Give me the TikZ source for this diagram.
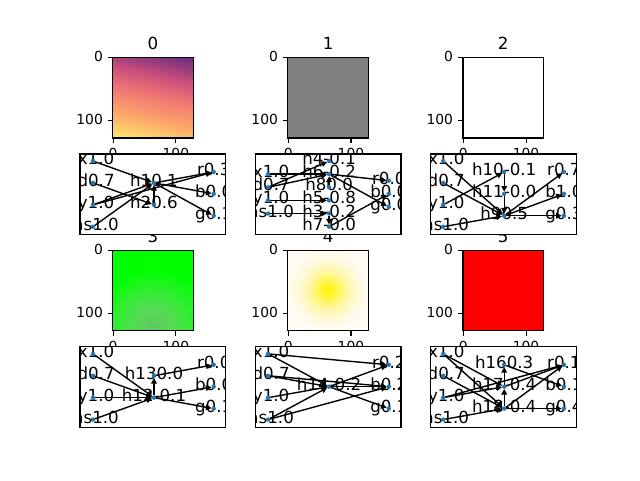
\documentclass[tikz,border=0pt]{standalone}
\usepackage{fontspec}
\setmainfont{DejaVu Sans}
\usetikzlibrary{arrows.meta}

\definecolor{mplblue}{HTML}{1F77B4}
\definecolor{mgA}{HTML}{74307E}
\definecolor{mgB}{HTML}{C94E7C}
\definecolor{mgC}{HTML}{F07474}
\definecolor{mgD}{HTML}{FCA66A}
\definecolor{mgE}{HTML}{FDE26C}
\definecolor{ylA}{HTML}{FFF400}
\definecolor{ylB}{HTML}{FFF54A}
\definecolor{ylC}{HTML}{FFF7A8}
\definecolor{ylD}{HTML}{FFFAE2}
\definecolor{ylE}{HTML}{FFFBF5}
\definecolor{grA}{HTML}{62C862}
\definecolor{grB}{HTML}{52DC52}
\definecolor{grC}{HTML}{2CF02C}
\definecolor{grD}{HTML}{00FF00}

% colour ramps of the pictures
\pgfdeclareverticalshading{magmaish}{100bp}{color(0bp)=(mgE); color(25bp)=(mgE);
  color(38bp)=(mgD); color(52bp)=(mgC); color(63bp)=(mgB); color(75bp)=(mgA); color(100bp)=(mgA)}
\pgfdeclareradialshading{yellowspot}{\pgfpoint{0bp}{0bp}}{color(0bp)=(ylA); color(5bp)=(ylB);
  color(11bp)=(ylC); color(18bp)=(ylD); color(25bp)=(ylE); color(50bp)=(ylE)}
\pgfdeclareradialshading{greenspot}{\pgfpoint{0bp}{0bp}}{color(0bp)=(grA); color(9bp)=(grB);
  color(17bp)=(grC); color(25bp)=(grD); color(50bp)=(grD)}

\tikzset{
  spine/.style={line width=0.83pt},
  tickmark/.style={line width=0.83pt},
  ticklbl/.style={font=\fontsize{10.4}{10.4}\selectfont, inner sep=0pt},
  ttl/.style={font=\fontsize{12.5}{12.5}\selectfont, inner sep=0pt},
  spot/.style={circle, inner sep=0pt, outer sep=0pt, minimum size=3.3pt},
  lbl/.style={font=\fontsize{12.5}{12.5}\selectfont, inner sep=0pt,
    text height=0.76em, text depth=0.24em},
  inlbl/.style={lbl, xshift=2.3pt},
  edge/.style={line width=1.04pt, -{Triangle[length=4.2pt,width=4.2pt]}},
}

% frame, ticks and title of one picture panel
\newcommand{\imgaxes}[3]{%
  \draw[spine] (#1,#2) rectangle ++(80.35,80.35);
  \draw[tickmark] (#1,#2+0.31) -- ++(-4.9,0);
  \draw[tickmark] (#1,#2+63.08) -- ++(-4.9,0);
  \draw[tickmark] (#1+0.31,#2+80.35) -- ++(0,4.9);
  \draw[tickmark] (#1+63.08,#2+80.35) -- ++(0,4.9);
  \node[ticklbl,anchor=mid east] (ya#3) at (#1-9.7,#2+0.31) {0};
  \node[ticklbl,anchor=mid east] (yb#3) at (#1-9.7,#2+63.08) {100};
  \node[ticklbl,anchor=north] (xa#3) at (#1+0.31,#2+90.05) {0};
  \node[ticklbl,anchor=north] (xb#3) at (#1+63.08,#2+90.05) {100};
  \node[ttl,anchor=base] (ttl#3) at (#1+40.17,#2-8.33) {#3};
}

% labels of the four inputs of network #1
\newcommand{\inlabels}[1]{%
  \foreach \nm/\lab in {x/x1.0, d/d0.7, y/y1.0, as/as1.0}
    \node[inlbl] (ta#1\nm) at (a#1\nm) {\lab};
}

\begin{document}
\begin{tikzpicture}[x=0.75pt,y=-0.75pt]
\useasboundingbox[fill=white] (0,0) rectangle (640,480);

% ---------- pictures ----------
\begin{scope}
\clip (112.8,57.6) rectangle ++(80.35,80.35);
\shade[shading=magmaish, shading angle=-12] (108,53) rectangle ++(90,90);
\end{scope}
\imgaxes{112.8}{57.6}{0}

\fill[gray] (287.9,57.6) rectangle ++(80.35,80.35);
\imgaxes{287.9}{57.6}{1}

\fill[white] (463.0,57.6) rectangle ++(80.35,80.35);
\imgaxes{463.0}{57.6}{2}

\begin{scope}
\clip (112.8,250.44) rectangle ++(80.35,80.35);
\fill[grD] (112.8,250.44) rectangle ++(80.35,80.35);
\shade[shading=greenspot] (153,327) circle (58);
\end{scope}
\imgaxes{112.8}{250.44}{3}

\begin{scope}
\clip (287.9,250.44) rectangle ++(80.35,80.35);
\fill[ylE] (287.9,250.44) rectangle ++(80.35,80.35);
\shade[shading=yellowspot] (327.8,290) circle (44);
\end{scope}
\imgaxes{287.9}{250.44}{4}

\fill[red] (463.0,250.44) rectangle ++(80.35,80.35);
\imgaxes{463.0}{250.44}{5}

% ---------- network 0 ----------
\begin{scope}[shift={(80,154.02)}]
\fill[white] (0,0) rectangle (145.9,80.35);
\begin{scope}
\clip (0,0) rectangle (145.9,80.35);
\node[spot] (a0x) at (13,7) {};
\node[spot] (a0d) at (13,28.9) {};
\node[spot] (a0y) at (13,50.8) {};
\node[spot] (a0as) at (13,72.7) {};
\node[spot] (h1) at (74,28.9) {};
\node[spot] (h2) at (74,50.8) {};
\node[spot] (a0r) at (133.7,17.95) {};
\node[spot] (a0b) at (133.7,39.85) {};
\node[spot] (a0g) at (133.7,61.75) {};
\draw[edge] (a0x) -- (h1);
\draw[edge] (a0d) -- (h2);
\draw[edge] (a0y) -- (h1);
\draw[edge] (a0y) -- (a0r);
\draw[edge] (a0as) -- (h1);
\draw[edge] (h2) -- (h1);
\draw[edge] (h1) -- (a0r);
\draw[edge] (h1) -- (a0b);
\draw[edge] (h1) -- (a0g);
\inlabels{0}
\foreach \nm/\lab in {h1/h10.1, h2/h20.6, a0r/r0.3, a0b/b0.0, a0g/g0.1}
  \node[lbl] (t\nm) at (\nm) {\lab};
\foreach \nm in {a0x,a0d,a0y,a0as,h1,h2,a0r,a0b,a0g}
  \fill[mplblue] (\nm) circle (2.2);
\end{scope}
\draw[spine] (0,0) rectangle (145.9,80.35);
\end{scope}

% ---------- network 1 ----------
\begin{scope}[shift={(255.1,154.02)}]
\fill[white] (0,0) rectangle (145.9,80.35);
\begin{scope}
\clip (0,0) rectangle (145.9,80.35);
\node[spot] (a1x) at (13,20.13) {};
\node[spot] (a1d) at (13,33.26) {};
\node[spot] (a1y) at (13,46.39) {};
\node[spot] (a1as) at (13,59.52) {};
\node[spot] (h4) at (74,7) {};
\node[spot] (h6) at (74,20.13) {};
\node[spot] (h8) at (74,33.26) {};
\node[spot] (h5) at (74,46.39) {};
\node[spot] (h3) at (74,59.52) {};
\node[spot] (h7) at (74,72.65) {};
\node[spot] (a1r) at (133.7,26.7) {};
\node[spot] (a1b) at (133.7,39.8) {};
\node[spot] (a1g) at (133.7,52.95) {};
\draw[edge] (a1x) -- (h6);
\draw[edge] (a1d) -- (h4);
\draw[edge] (a1d) -- (h6);
\draw[edge] (a1y) -- (h5);
\draw[edge] (a1as) -- (h3);
\draw[edge] (h8) -- (h6);
\draw[edge] (h3) -- (h7);
\draw[edge] (h6) -- (a1r);
\draw[edge] (h6) -- (a1g);
\draw[edge] (h7) -- (a1b);
\inlabels{1}
\foreach \nm/\lab in {h4/h4-0.1, h6/h6-0.2, h8/h80.0, h5/h5-0.8, h3/h3-0.2, h7/h7-0.0,
    a1r/r0.0, a1b/b0.0, a1g/g0.0}
  \node[lbl] (t\nm) at (\nm) {\lab};
\foreach \nm in {a1x,a1d,a1y,a1as,h4,h6,h8,h5,h3,h7,a1r,a1b,a1g}
  \fill[mplblue] (\nm) circle (2.2);
\end{scope}
\draw[spine] (0,0) rectangle (145.9,80.35);
\end{scope}

% ---------- network 2 ----------
\begin{scope}[shift={(430.2,154.02)}]
\fill[white] (0,0) rectangle (145.9,80.35);
\begin{scope}
\clip (0,0) rectangle (145.9,80.35);
\node[spot] (a2x) at (13,7) {};
\node[spot] (a2d) at (13,28.9) {};
\node[spot] (a2y) at (13,50.8) {};
\node[spot] (a2as) at (13,72.7) {};
\node[spot] (h10) at (74,17.95) {};
\node[spot] (h11) at (74,39.85) {};
\node[spot] (h9) at (74,61.75) {};
\node[spot] (a2r) at (133.7,17.95) {};
\node[spot] (a2b) at (133.7,39.85) {};
\node[spot] (a2g) at (133.7,61.75) {};
\draw[edge] (a2x) -- (h9);
\draw[edge] (a2d) -- (h9);
\draw[edge] (a2y) -- (h10);
\draw[edge] (a2as) -- (h9);
\draw[edge] (h10) -- (h11);
\draw[edge] (h11) -- (h9);
\draw[edge] (h9) -- (a2r);
\draw[edge] (h9) -- (a2b);
\draw[edge] (h9) -- (a2g);
\inlabels{2}
\foreach \nm/\lab in {h10/h10-0.1, h11/h11-0.0, h9/h90.5, a2r/r0.7, a2b/b1.0, a2g/g0.3}
  \node[lbl] (t\nm) at (\nm) {\lab};
\foreach \nm in {a2x,a2d,a2y,a2as,h10,h11,h9,a2r,a2b,a2g}
  \fill[mplblue] (\nm) circle (2.2);
\end{scope}
\draw[spine] (0,0) rectangle (145.9,80.35);
\end{scope}

% ---------- network 3 ----------
\begin{scope}[shift={(80,346.85)}]
\fill[white] (0,0) rectangle (145.9,80.35);
\begin{scope}
\clip (0,0) rectangle (145.9,80.35);
\node[spot] (a3x) at (13,7) {};
\node[spot] (a3d) at (13,28.9) {};
\node[spot] (a3y) at (13,50.8) {};
\node[spot] (a3as) at (13,72.7) {};
\node[spot] (h13) at (74,28.9) {};
\node[spot] (h12) at (74,50.8) {};
\node[spot] (a3r) at (133.7,17.95) {};
\node[spot] (a3b) at (133.7,39.85) {};
\node[spot] (a3g) at (133.7,61.75) {};
\draw[edge] (a3x) -- (h12);
\draw[edge] (a3d) -- (h12);
\draw[edge] (a3y) -- (h12);
\draw[edge] (a3as) -- (h12);
\draw[edge] (h12) -- (h13);
\draw[edge] (h13) -- (a3r);
\draw[edge] (h12) -- (a3b);
\draw[edge] (h12) -- (a3g);
\inlabels{3}
\foreach \nm/\lab in {h13/h130.0, h12/h12-0.1, a3r/r0.0, a3b/b0.0, a3g/g0.1}
  \node[lbl] (t\nm) at (\nm) {\lab};
\foreach \nm in {a3x,a3d,a3y,a3as,h13,h12,a3r,a3b,a3g}
  \fill[mplblue] (\nm) circle (2.2);
\end{scope}
\draw[spine] (0,0) rectangle (145.9,80.35);
\end{scope}

% ---------- network 4 ----------
\begin{scope}[shift={(255.1,346.85)}]
\fill[white] (0,0) rectangle (145.9,80.35);
\begin{scope}
\clip (0,0) rectangle (145.9,80.35);
\node[spot] (a4x) at (13,7) {};
\node[spot] (a4d) at (13,28.9) {};
\node[spot] (a4y) at (13,50.8) {};
\node[spot] (a4as) at (13,72.7) {};
\node[spot] (h14) at (74,39.85) {};
\node[spot] (a4r) at (133.7,17.95) {};
\node[spot] (a4b) at (133.7,39.85) {};
\node[spot] (a4g) at (133.7,61.75) {};
\draw[edge] (a4x) -- (a4r);
\draw[edge] (a4x) -- (h14);
\draw[edge] (a4d) -- (h14);
\draw[edge] (a4d) -- (a4b);
\draw[edge] (a4y) -- (h14);
\draw[edge] (a4as) -- (h14);
\draw[edge] (a4as) -- (a4b);
\draw[edge] (h14) -- (a4r);
\draw[edge] (h14) -- (a4b);
\draw[edge] (h14) -- (a4g);
\inlabels{4}
\foreach \nm/\lab in {h14/h14-0.2, a4r/r0.2, a4b/b0.2, a4g/g0.1}
  \node[lbl] (t\nm) at (\nm) {\lab};
\foreach \nm in {a4x,a4d,a4y,a4as,h14,a4r,a4b,a4g}
  \fill[mplblue] (\nm) circle (2.2);
\end{scope}
\draw[spine] (0,0) rectangle (145.9,80.35);
\end{scope}

% ---------- network 5 ----------
\begin{scope}[shift={(430.2,346.85)}]
\fill[white] (0,0) rectangle (145.9,80.35);
\begin{scope}
\clip (0,0) rectangle (145.9,80.35);
\node[spot] (a5x) at (13,7) {};
\node[spot] (a5d) at (13,28.9) {};
\node[spot] (a5y) at (13,50.8) {};
\node[spot] (a5as) at (13,72.7) {};
\node[spot] (h16) at (74,17.95) {};
\node[spot] (h17) at (74,39.85) {};
\node[spot] (h18) at (74,61.75) {};
\node[spot] (a5r) at (133.7,17.95) {};
\node[spot] (a5b) at (133.7,39.85) {};
\node[spot] (a5g) at (133.7,61.75) {};
\draw[edge] (a5x) -- (h18);
\draw[edge] (a5x) -- (h17);
\draw[edge] (a5d) -- (h18);
\draw[edge] (a5y) -- (h17);
\draw[edge] (a5y) -- (a5r);
\draw[edge] (a5as) -- (h18);
\draw[edge] (h18) -- (h17);
\draw[edge] (h17) -- (h16);
\draw[edge] (h17) -- (a5r);
\draw[edge] (h18) -- (a5r);
\draw[edge] (h18) -- (a5g);
\draw[edge] (h16) -- (a5b);
\inlabels{5}
\foreach \nm/\lab in {h16/h160.3, h17/h17-0.4, h18/h18-0.4, a5r/r0.1, a5b/b0.1, a5g/g0.4}
  \node[lbl] (t\nm) at (\nm) {\lab};
\foreach \nm in {a5x,a5d,a5y,a5as,h16,h17,h18,a5r,a5b,a5g}
  \fill[mplblue] (\nm) circle (2.2);
\end{scope}
\draw[spine] (0,0) rectangle (145.9,80.35);
\end{scope}

\end{tikzpicture}
\end{document}
